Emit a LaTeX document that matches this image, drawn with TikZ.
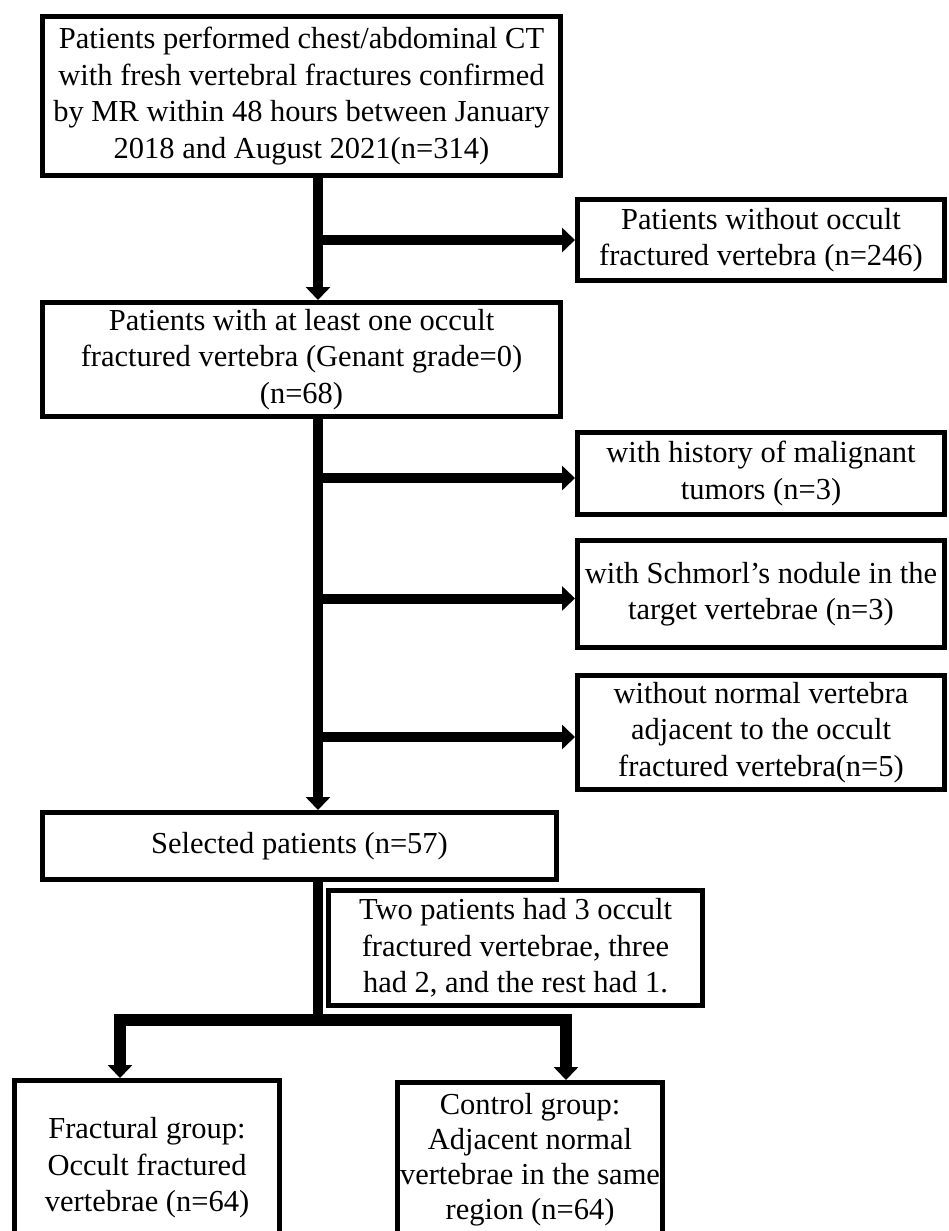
\documentclass[tikz,border=0pt]{standalone}
\usepackage{fontspec}
\setmainfont{Liberation Serif}
\usetikzlibrary{arrows.meta}
\begin{document}
\begin{tikzpicture}[x=1pt,y=-1pt,
  font=\fontsize{30.5}{36.5}\selectfont,
  box/.style={draw=black,line width=5pt,fill=white,align=center,inner sep=0pt,anchor=north west},
  conn/.style={draw=black,line width=10pt,line join=miter},
  connb/.style={draw=black,line width=12pt,line join=miter},
  tip/.style={-{Triangle[width=24pt,length=13pt]}}]
\useasboundingbox (0,0) rectangle (949,1231);
\clip (0,0) rectangle (949,1231);
\fill[white] (0,0) rectangle (949,1231);

\node[box,minimum width=518pt,minimum height=159pt] (b1) at (40,14)
  {Patients performed chest/abdominal CT\\with fresh vertebral fractures confirmed\\by MR within 48 hours between January\\2018 and August 2021(n=314)};
\node[box,minimum width=367pt,minimum height=81pt] (ex1) at (575,197)
  {Patients without occult\\fractured vertebra (n=246)};
\node[box,minimum width=518pt,minimum height=114pt] (b2) at (40,300)
  {Patients with at least one occult\\fractured vertebra (Genant grade=0)\\(n=68)};
\node[box,minimum width=367pt,minimum height=82pt] (exA) at (575,430)
  {with history of malignant\\tumors (n=3)};
\node[box,minimum width=367pt,minimum height=107pt] (exB) at (575,538)
  {with Schmorl’s nodule in the\\target vertebrae (n=3)};
\node[box,minimum width=367pt,minimum height=114pt] (exC) at (575,673)
  {without normal vertebra\\adjacent to the occult\\fractured vertebra(n=5)};
\node[box,minimum width=514pt,minimum height=67pt] (sel) at (40,810)
  {\raisebox{-4pt}{Selected patients (n=57)}};
\node[box,minimum width=374pt,minimum height=115pt] (two) at (326,888)
  {Two patients had 3 occult\\fractured vertebrae, three\\had 2, and the rest had 1.};
\node[box,minimum width=265pt,minimum height=175pt] (fr) at (12,1078)
  {Fractural group:\\Occult fractured\\vertebrae (n=64)};
\node[box,minimum width=265pt,minimum height=154pt,font=\fontsize{30.5}{35}\selectfont] (ctl) at (395,1080)
  {Control group:\\Adjacent normal\\vertebrae in the same\\region (n=64)};

\coordinate (sx) at (318,0);
\coordinate (lx) at (120,0);
\coordinate (rx) at (566,0);
\coordinate (bj) at (318,1020);

% spine
\draw[conn,tip] (sx |- b1.south) -- (sx |- b2.north);
\draw[conn,tip] (sx |- ex1.west) -- (ex1.west);
\draw[conn,tip] (sx |- b2.south) -- (sx |- sel.north);
\draw[conn,tip] ([yshift=-4.5pt]sx |- exA.west) -- ([yshift=-4.5pt]exA.west);
\draw[conn,tip] ([yshift=-4.5pt]sx |- exB.west) -- ([yshift=-4.5pt]exB.west);
\draw[conn,tip] ([yshift=-4.5pt]sx |- exC.west) -- ([yshift=-4.5pt]exC.west);

% split to the two groups
\draw[conn] (sx |- sel.south) -- (bj);
\draw[connb,tip] (bj) -| (lx |- fr.north);
\draw[connb,tip] (bj) -| (rx |- ctl.north);
\end{tikzpicture}
\end{document}
